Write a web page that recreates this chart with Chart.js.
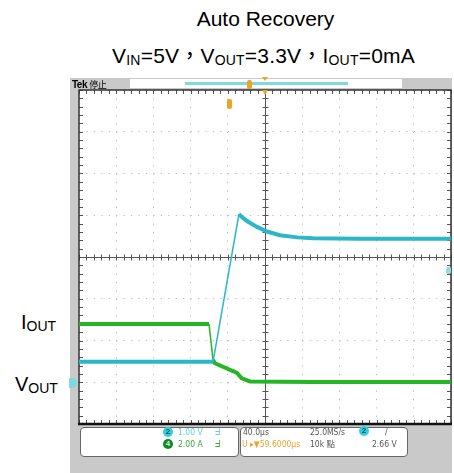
<!DOCTYPE html>
<html lang="zh-Hant">
<head>
  <meta charset="UTF-8" />
  <title>Auto Recovery</title>
  <script src="https://cdn.jsdelivr.net/npm/chart.js"></script>
  <style>
    body {
      margin: 0;
      width: 454px;
      height: 473px;
      overflow: hidden;
      background: #fff;
      font-family: "Liberation Sans", Arial, "Noto Sans CJK TC", sans-serif;
      color: #000;
      position: relative;
    }
    .abs { position: absolute; white-space: nowrap; }
    .s { font-size: 14px; position: relative; top: 2px; }
    #t1 { left: 0; width: 531px; top: 9px; font-size: 21px; line-height: 20px; text-align: center; }
    #t2 { left: 0; width: 527px; top: 46px; font-size: 21px; line-height: 20px; text-align: center; letter-spacing: 0.2px; }
    .lab { font-size: 20px; line-height: 20px; }
    #scope { position: absolute; left: 70px; top: 78px; }
    .hdr { position: absolute; }
    .box {
      position: absolute;
      background: #fff;
      border: 1px solid #666;
      border-radius: 4px;
      box-sizing: border-box;
    }
    .mini {
      position: absolute;
      font-family: "Liberation Sans Narrow", "DejaVu Sans Condensed", "Noto Sans CJK TC", sans-serif;
      font-size: 8.5px;
      line-height: 9px;
      color: #555;
      white-space: nowrap;
    }
    .dot {
      position: absolute;
      width: 10px;
      height: 10px;
      border-radius: 50%;
      font: bold 8px "Liberation Sans", sans-serif;
      line-height: 10px;
      text-align: center;
    }
  </style>
</head>
<body>
  <div class="abs" id="t1">Auto Recovery</div>
  <div class="abs" id="t2">V<span class="s">IN</span>=5V，V<span class="s">OUT</span>=3.3V，I<span class="s">OUT</span>=0mA</div>
  <div class="abs lab" style="left:21px; top:312px;">I<span class="s">OUT</span></div>
  <div class="abs lab" style="left:15px; top:374px;">V<span class="s">OUT</span></div>

  <canvas id="scope" width="382" height="395"></canvas>

  <!-- cabecera del osciloscopio -->
  <div class="hdr" style="left:72px; top:78px; font:bold 10px 'Liberation Sans', sans-serif; letter-spacing:-0.5px;">Tek <span style="font:9px 'Noto Sans CJK TC', sans-serif;">停止</span></div>
  <div class="hdr" style="left:130px; top:79px; width:272px; height:9px; background:#fff;"></div>
  <div class="hdr" style="left:185px; top:82px; width:163px; height:3px; background:#7fd9e0;"></div>
  <div class="hdr" style="left:247px; top:80px; width:5px; height:9px; background:#f0a12a; border-radius:2px;"></div>
  <div class="hdr" style="left:262px; top:77px; width:0; height:0; border-left:3px solid transparent; border-right:3px solid transparent; border-top:4px solid #f0a12a;"></div>
  <div class="hdr" style="left:262px; top:90px; width:0; height:0; border-left:3px solid transparent; border-right:3px solid transparent; border-top:5px solid #f0a12a;"></div>
  <div class="hdr" style="left:227px; top:99px; width:5px; height:10px; background:#f0a12a; border-radius:2px;"></div>
  <div class="hdr" style="left:69px; top:378px; width:8px; height:10px; background:#7fd9e0; border-radius:0 5px 5px 0;"></div>
  <div class="hdr" style="left:446px; top:267px; width:5px; height:7px; background:#8fdde2; border-radius:2px;"></div>

  <!-- panel inferior -->
  <div class="box" style="left:80px; top:427px; width:159px; height:30px;"></div>
  <div class="box" style="left:240px; top:427px; width:168px; height:30px;"></div>
  <div class="dot" style="left:163px; top:427px; background:#2fd0dc; color:#0b4a55;">2</div>
  <div class="dot" style="left:163px; top:439px; background:#0f8a1e; color:#cfe;">4</div>
  <div class="mini" style="left:178px; top:428px; color:#5fcfd9;">1.00 V</div>
  <div class="mini" style="left:178px; top:440px; color:#3aa83a;">2.00 A</div>
  <div class="mini" style="left:215px; top:428px; color:#5fcfd9;">ᖵ</div>
  <div class="mini" style="left:215px; top:440px; color:#3aa83a;">ᖵ</div>
  <div class="mini" style="left:243px; top:428px;">40.0µs</div>
  <div class="mini" style="left:242px; top:440px; color:#f0a12a;">U ▸▼59.6000µs</div>
  <div class="mini" style="left:310px; top:428px;">25.0MS/s</div>
  <div class="mini" style="left:310px; top:440px;">10k 點</div>
  <div class="dot" style="left:359px; top:426px; background:#2fd0dc; color:#0b4a55;">2</div>
  <div class="mini" style="left:385px; top:428px;">/</div>
  <div class="mini" style="left:372px; top:440px;">2.66 V</div>

  <script>
    // tiempo en µs (40 µs/div), Vout en V (1 V/div), Iout en A (2 A/div)
    const vOutTime = [0, 144.1, 172.0, 174.5, 180.6, 186.0, 191.4, 202.2, 216.1, 234.4, 251.6, 300, 400];
    const vOutVolts = [0.49, 0.49, 4.03, 3.97, 3.86, 3.79, 3.72, 3.61, 3.52, 3.47, 3.45, 3.44, 3.44];
    const iOutTime = [0, 139.8, 144.1, 146.2, 162.4, 169.6, 175.0, 183.9, 250, 400];
    const iOutAmps = [2.79, 2.79, 1.07, 0.91, 0.59, 0.46, 0.19, 0.04, 0.01, 0.01];

    const toPoints = (xs, ys) => xs.map((t, i) => ({ x: t, y: ys[i] }));

    const scopeFace = {
      id: 'scopeFace',
      beforeDraw(chart) {
        const { ctx, width, height, chartArea: a } = chart;
        ctx.save();
        ctx.fillStyle = '#c9c9c9';
        ctx.fillRect(0, 0, width, height);
        ctx.fillStyle = '#fff';
        ctx.fillRect(a.left, a.top, a.right - a.left, a.bottom - a.top);
        ctx.restore();
      },
      beforeDatasetsDraw(chart) {
        const { ctx, chartArea: a, scales: { x, y } } = chart;
        const cx = Math.round(x.getPixelForValue(200)) + 0.5;
        const cy = Math.round(y.getPixelForValue(3)) + 0.5;
        ctx.save();
        ctx.strokeStyle = '#555';
        ctx.lineWidth = 1;
        ctx.beginPath();
        ctx.moveTo(cx, a.top); ctx.lineTo(cx, a.bottom);
        ctx.moveTo(a.left, cy); ctx.lineTo(a.right, cy);
        // marcas menores cada 1/5 de división
        for (let t = 0; t <= 400; t += 8) {
          const px = Math.round(x.getPixelForValue(t)) + 0.5;
          ctx.moveTo(px, cy - 3); ctx.lineTo(px, cy + 3);
          ctx.moveTo(px, a.top); ctx.lineTo(px, a.top + 4);
          ctx.moveTo(px, a.bottom); ctx.lineTo(px, a.bottom - 4);
        }
        for (let v = -1; v <= 7.001; v += 0.2) {
          const py = Math.round(y.getPixelForValue(v)) + 0.5;
          ctx.moveTo(cx - 3, py); ctx.lineTo(cx + 3, py);
          ctx.moveTo(a.left, py); ctx.lineTo(a.left + 4, py);
          ctx.moveTo(a.right, py); ctx.lineTo(a.right - 4, py);
        }
        ctx.stroke();
        ctx.strokeStyle = '#333';
        ctx.lineWidth = 1.5;
        ctx.strokeRect(a.left, a.top, a.right - a.left, a.bottom - a.top);
        ctx.beginPath();
        ctx.strokeStyle = '#111';
        ctx.lineWidth = 2.5;
        ctx.moveTo(a.left - 1, a.bottom); ctx.lineTo(a.right + 1, a.bottom);
        ctx.stroke();
        ctx.restore();
      }
    };

    new Chart(document.getElementById('scope'), {
      type: 'line',
      data: {
        datasets: [
          {
            label: 'VOUT',
            data: toPoints(vOutTime, vOutVolts),
            yAxisID: 'y',
            borderColor: '#2bb7c6',
            borderWidth: 4,
            pointRadius: 0,
            segment: { borderWidth: c => (c.p0DataIndex === 1 ? 1.5 : undefined) }
          },
          {
            label: 'IOUT',
            data: toPoints(iOutTime, iOutAmps),
            yAxisID: 'yI',
            borderColor: '#25b627',
            borderWidth: 4,
            pointRadius: 0,
            segment: { borderWidth: c => (c.p0DataIndex === 1 ? 1.5 : undefined) }
          }
        ]
      },
      options: {
        responsive: false,
        animation: false,
        layout: { padding: { left: 9, top: 12, right: 1, bottom: 49 } },
        plugins: { legend: { display: false }, tooltip: { enabled: false } },
        scales: {
          x: {
            type: 'linear', min: 0, max: 400,
            ticks: { display: false, stepSize: 40 },
            grid: { color: '#b9b9b9', drawTicks: false, lineWidth: 1 },
            border: { display: false, dash: [1.2, 7.15] }
          },
          y: {
            min: -1, max: 7,
            ticks: { display: false, stepSize: 1 },
            grid: { color: '#b9b9b9', drawTicks: false, lineWidth: 1 },
            border: { display: false, dash: [1.2, 6.24] }
          },
          yI: { display: false, min: -2, max: 14 }
        }
      },
      plugins: [scopeFace]
    });
  </script>
</body>
</html>
